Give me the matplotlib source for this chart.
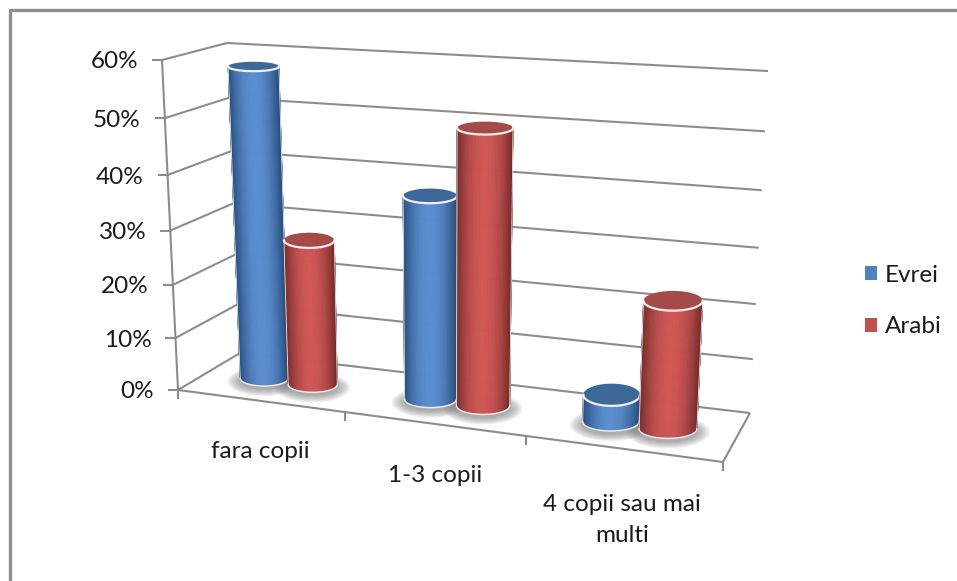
import numpy as np
import matplotlib
matplotlib.use("Agg")
import matplotlib.pyplot as plt
from matplotlib.collections import PolyCollection
from matplotlib.colors import to_rgb
from matplotlib.patches import Patch

categories = ["fara copii", "1-3 copii", "4 copii sau mai\nmulti"]
evrei = [58, 37.5, 5]
arabi = [27.5, 50, 23]
value_ticks = [0, 10, 20, 30, 40, 50, 60]
series_names = ["Evrei", "Arabi"]

BLUE_MID, BLUE_DARK, BLUE_TOP = "#5b8dd0", "#274d7c", "#3d6899"
RED_MID, RED_DARK, RED_TOP = "#cf5655", "#742c2b", "#a44a48"
GRID = "#8c8c8c"
FONT_SIZE = 17.5

plt.rcParams["font.family"] = ["Lato", "DejaVu Sans"]

fig = plt.figure(figsize=(9.57, 5.81), dpi=100)
ax = fig.add_axes([0, 0, 1, 1])
ax.set_xlim(0, 957)
ax.set_ylim(581, 0)
ax.axis("off")

# box corners on screen, (front/back, left/right, bottom/top)
FLB = np.array([178, 390.0])
FLT = np.array([162, 60.0])
BLB = np.array([240, 353.0])
BLT = np.array([227, 43.0])
BRB = np.array([750, 413.0])
BRT = np.array([768, 71.0])
FRB = np.array([723, 462.0])
FRT = np.array([741, 98.0])


def warp(t, k):
    return t / (t + k * (1 - t))


def project(cat, depth, value):
    # cat 0..3 along the front axis, depth 0..1 to the back wall, value in %
    u = warp(cat / 3, 1.13)
    v = warp(value / 60, 1.07)
    front_b = FLB + (FRB - FLB) * u
    front_t = FLT + (FRT - FLT) * u
    back_b = BLB + (BRB - BLB) * u
    back_t = BLT + (BRT - BLT) * u
    front = front_b + (front_t - front_b) * v
    back = back_b + (back_t - back_b) * v
    return front + (back - front) * depth


def line3d(p, q, **kw):
    a = project(*p)
    b = project(*q)
    ax.plot([a[0], b[0]], [a[1], b[1]], solid_capstyle="butt", zorder=1, **kw)


# frame of the picture, cut off at right and bottom
ax.plot([9.5, 9.5, 957], [581, 9.5, 9.5], color="#8f8f8f", lw=2.4, solid_joinstyle="miter")

# walls and floor
for val in value_ticks:
    line3d((0, 0, val), (0, 1, val), color=GRID, lw=1.5)
    line3d((0, 1, val), (3, 1, val), color=GRID, lw=1.5)
    p = project(0, 0, val)
    ax.plot([p[0] - 9, p[0]], [p[1], p[1]], color=GRID, lw=1.5, zorder=1)
    ax.text(p[0] - 24, p[1] + 2, f"{val}%", ha="right", va="center", fontsize=FONT_SIZE, color="#1a1a1a")
line3d((0, 0, 0), (0, 0, 60), color=GRID, lw=1.5)
line3d((0, 0, 0), (3, 0, 0), color=GRID, lw=1.5)
line3d((3, 0, 0), (3, 1, 0), color=GRID, lw=1.5)
for c in range(4):
    p = project(c, 0, 0)
    ax.plot([p[0], p[0]], [p[1], p[1] + 8], color=GRID, lw=1.5, zorder=1)

label_pos = [(260, 452), (435, 475), (622, 520)]
for name, pos in zip(categories, label_pos):
    ax.text(pos[0], pos[1], name, ha="center", va="center", fontsize=FONT_SIZE, color="#1a1a1a",
            linespacing=1.6)


def ellipse(center, a, b, theta):
    return np.column_stack([center[0] + a * np.cos(theta), center[1] + b * np.sin(theta)])


def half_width(cat, depth, value, r):
    return (project(cat + r, depth, value)[0] - project(cat - r, depth, value)[0]) / 2


def semi_height(cat, value, rd):
    return abs(project(cat, 0.5 + rd, value)[1] - project(cat, 0.5 - rd, value)[1]) / 2


def shadow(cat, r, rd, z):
    c = project(cat, 0.5, 0)
    a = half_width(cat, 0.5, 0, r)
    b = semi_height(cat, 0, rd)
    theta = np.linspace(0, 2 * np.pi, 80)
    for grow in np.linspace(13, 0, 9):
        ax.fill(*ellipse((c[0], c[1] + 3), a + grow, b + grow * 0.55, theta).T,
                color="#707070", alpha=0.09, lw=0, zorder=z)


def cylinder(cat, value, mid, dark, top, z, r=0.15, rd=0.2, rd_top=0.25):
    base = project(cat, 0.5, 0)
    head = project(cat, 0.5, value)
    a0, b0 = half_width(cat, 0.5, 0, r), semi_height(cat, 0, rd)
    a1, b1 = half_width(cat, 0.5, value, r), semi_height(cat, value, rd_top)

    # body is thin strips, shaded by the angle round the cylinder
    theta = np.linspace(np.pi, 0, 61)
    low = ellipse(base, a0, b0, theta)
    high = ellipse(head, a1, b1, theta)
    mid_rgb, dark_rgb = np.array(to_rgb(mid)), np.array(to_rgb(dark))
    strips, colors = [], []
    for i in range(60):
        strips.append([low[i], low[i + 1], high[i + 1], high[i]])
        s = abs(np.cos((theta[i] + theta[i + 1]) / 2)) ** 2.0
        colors.append(mid_rgb + (dark_rgb - mid_rgb) * s)
    ax.add_collection(PolyCollection(strips, facecolors=colors, edgecolors=colors, linewidths=0.6,
                                     zorder=z))

    # pale rim round the bottom and the sides
    ax.plot(low[:, 0], low[:, 1], color="#eeeeee", lw=1.1, zorder=z + 0.1)
    ax.plot([low[0, 0], high[0, 0]], [low[0, 1], high[0, 1]], color="#f2f2f2", lw=0.6, zorder=z + 0.1)
    ax.plot([low[-1, 0], high[-1, 0]], [low[-1, 1], high[-1, 1]], color="#f2f2f2", lw=0.6, zorder=z + 0.1)

    # top face
    ring = ellipse(head, a1, b1, np.linspace(0, 2 * np.pi, 80))
    ax.fill(ring[:, 0], ring[:, 1], color=top, lw=0, zorder=z + 0.2)
    front_half = ellipse(head, a1, b1, np.linspace(np.pi, 0, 40))
    ax.plot(front_half[:, 0], front_half[:, 1], color="#f4efef", lw=1.6, zorder=z + 0.3)


for i in range(len(categories)):
    shadow(i + 0.35, 0.15, 0.2, 2)
    shadow(i + 0.65, 0.15, 0.2, 2)
    cylinder(i + 0.35, evrei[i], BLUE_MID, BLUE_DARK, BLUE_TOP, 3 + i * 2)
    cylinder(i + 0.65, arabi[i], RED_MID, RED_DARK, RED_TOP, 4 + i * 2)

handles = [Patch(facecolor="#4f81bd"), Patch(facecolor="#c0504d")]
ax.legend(handles, series_names, loc="upper left", bbox_to_anchor=(865 / 957, 1 - 265 / 581),
          frameon=False, fontsize=FONT_SIZE, labelspacing=1.25, handlelength=0.5, handleheight=0.5,
          handletextpad=0.33, borderpad=0, borderaxespad=0, labelcolor="#1a1a1a")

fig.savefig("out.png", dpi=100)
